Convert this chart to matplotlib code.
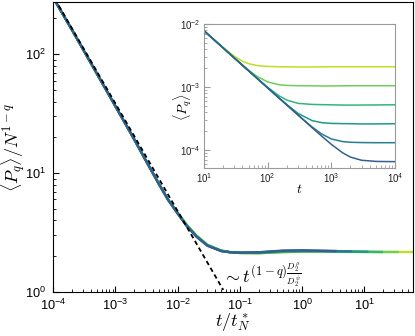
import numpy as np
import matplotlib
matplotlib.use("Agg")
import matplotlib.pyplot as plt
import matplotlib.ticker as ticker

plt.rcParams["font.family"] = ["Liberation Sans", "DejaVu Sans"]
plt.rcParams["mathtext.fontset"] = "custom"
plt.rcParams["mathtext.rm"] = "Liberation Sans"
plt.rcParams["mathtext.it"] = "Liberation Sans:italic"
plt.rcParams["mathtext.bf"] = "Liberation Sans:bold"

# --- main panel: collapsed curves, <P_q>/N^(1-q) vs t/t*_N ---
t_main = [1e-4, 2e-4, 5e-4, 1e-3, 2e-3, 3e-3, 5e-3, 7e-3, 1e-2, 1.4e-2, 2e-2, 3e-2,
          5e-2, 7e-2, 0.1, 0.2, 0.5, 1, 2, 3.4, 6, 11, 19, 34, 60]
nan = np.nan
main_curves = [
    [300, 161, 69.3, 36.6, 19.3, 13.1, 8.1, 6.02, 4.66, 3.68, 3.00, 2.50, 2.23, 2.16, 2.13, 2.12,
     2.16, 2.18, 2.18, 2.18, 2.17, 2.17, 2.17, 2.17, 2.17],
    [300, 161, 69.3, 36.6, 19.3, 13.1, 8.1, 6.01, 4.64, 3.66, 2.98, 2.49, 2.23, 2.16, 2.13, 2.12,
     2.17, 2.19, 2.19, 2.18, 2.18, 2.17, 2.17, 2.17, nan],
    [300, 161, 69.3, 36.6, 19.3, 13.1, 8.1, 6.00, 4.62, 3.64, 2.96, 2.48, 2.22, 2.16, 2.13, 2.13,
     2.18, 2.20, 2.20, 2.19, 2.18, 2.18, 2.17, nan, nan],
    [300, 161, 69.3, 36.6, 19.3, 13.1, 8.1, 5.99, 4.60, 3.62, 2.95, 2.47, 2.22, 2.16, 2.14, 2.14,
     2.20, 2.21, 2.21, 2.20, 2.19, 2.18, nan, nan, nan],
    [300, 161, 69.3, 36.6, 19.3, 13.1, 8.1, 5.98, 4.58, 3.60, 2.93, 2.46, 2.21, 2.16, 2.14, 2.15,
     2.22, 2.23, 2.22, 2.21, 2.20, nan, nan, nan, nan],
    [300, 161, 69.3, 36.6, 19.3, 13.1, 8.1, 5.97, 4.56, 3.58, 2.92, 2.45, 2.21, 2.16, 2.14, 2.16,
     2.23, 2.24, 2.22, 2.21, nan, nan, nan, nan, nan],
]
guide_x = [1e-4, 0.054]
guide_y = [310, 1.04]

# --- inset: raw <P_q> vs t ---
t_in = [10, 15, 20, 30, 40, 50, 70, 100, 150, 200, 300, 500, 700, 1000, 1500, 2000,
        3000, 5000, 7000, 10000]
inset_curves = [
    [7.81e-3, 5.43e-3, 4.24e-3, 3.07e-3, 2.57e-3, 2.35e-3, 2.18e-3, 2.12e-3, 2.10e-3, 2.09e-3,
     2.08e-3, 2.08e-3, 2.09e-3, 2.10e-3, 2.10e-3, 2.10e-3, 2.10e-3, 2.10e-3, 2.10e-3, 2.10e-3],
    [7.80e-3, 5.41e-3, 4.17e-3, 2.90e-3, 2.25e-3, 1.86e-3, 1.45e-3, 1.205e-3, 1.09e-3, 1.06e-3,
     1.05e-3, 1.045e-3, 1.04e-3, 1.04e-3, 1.045e-3, 1.05e-3, 1.05e-3, 1.05e-3, 1.05e-3, 1.05e-3],
    [7.80e-3, 5.41e-3, 4.17e-3, 2.88e-3, 2.23e-3, 1.82e-3, 1.347e-3, 9.9e-4, 7.28e-4, 6.20e-4,
     5.51e-4, 5.30e-4, 5.26e-4, 5.22e-4, 5.18e-4, 5.17e-4, 5.18e-4, 5.20e-4, 5.22e-4, 5.23e-4],
    [7.80e-3, 5.41e-3, 4.17e-3, 2.88e-3, 2.22e-3, 1.815e-3, 1.34e-3, 9.72e-4, 6.76e-4, 5.27e-4,
     3.82e-4, 2.93e-4, 2.725e-4, 2.65e-4, 2.63e-4, 2.62e-4, 2.60e-4, 2.60e-4, 2.61e-4, 2.62e-4],
    [7.80e-3, 5.41e-3, 4.17e-3, 2.88e-3, 2.22e-3, 1.815e-3, 1.34e-3, 9.7e-4, 6.73e-4, 5.19e-4,
     3.61e-4, 2.32e-4, 1.81e-4, 1.503e-4, 1.364e-4, 1.33e-4, 1.316e-4, 1.31e-4, 1.31e-4, 1.31e-4],
    [7.80e-3, 5.41e-3, 4.17e-3, 2.88e-3, 2.22e-3, 1.815e-3, 1.34e-3, 9.7e-4, 6.73e-4, 5.19e-4,
     3.59e-4, 2.26e-4, 1.677e-4, 1.233e-4, 9.07e-5, 7.74e-5, 6.89e-5, 6.62e-5, 6.58e-5, 6.56e-5],
]

colors = plt.cm.viridis(np.linspace(0.9, 0.3, 6))


def style_log_axes(ax, spine_color, labelsize, pad):
    for s in ax.spines.values():
        s.set_color(spine_color)
    ax.tick_params(which="both", direction="in", top=False, right=False,
                   color=spine_color, labelsize=labelsize, pad=pad)
    ax.tick_params(which="major", length=4, width=0.8)
    ax.tick_params(which="minor", length=2.2, width=0.6)
    ax.xaxis.set_minor_formatter(ticker.NullFormatter())
    ax.yaxis.set_minor_formatter(ticker.NullFormatter())


fig = plt.figure(figsize=(4.15, 3.36), dpi=100)
ax = fig.add_axes([0.128, 0.131, 0.867, 0.863])

for y, c in zip(main_curves, colors):
    ax.plot(t_main, y, color=c, lw=1.7)
ax.plot(guide_x, guide_y, color="black", ls=(0, (2.5, 1.8)), lw=1.3)

ax.set_xscale("log")
ax.set_yscale("log")
ax.set_xlim(1e-4, 60)
ax.set_ylim(1, 275)
ax.xaxis.set_major_locator(ticker.LogLocator(base=10, numticks=10))
ax.xaxis.set_minor_locator(ticker.LogLocator(base=10, subs=np.arange(2, 10), numticks=20))
style_log_axes(ax, "black", 9.2, 5)
ax.tick_params(axis="x", pad=4)
ax.set_xlabel(r"$t/t_N^*$", fontsize=13, labelpad=-1, math_fontfamily="cm")
ax.set_ylabel(r"$\langle P_q\rangle/N^{1-q}$", fontsize=13, labelpad=-1, math_fontfamily="cm")
ax.text(0.051, 1.2, r"$\sim t^{(1-q)\frac{D_2^{\mu}}{D_2^{\psi}}}$", fontsize=13,
        math_fontfamily="cm")

ins = fig.add_axes([0.4916, 0.5, 0.4602, 0.4286])
for y, c in zip(inset_curves, colors):
    ins.plot(t_in, y, color=c, lw=1.1)
ins.set_xscale("log")
ins.set_yscale("log")
ins.set_xlim(10, 1e4)
ins.set_ylim(5.2e-5, 1e-2)
style_log_axes(ins, "#9a9a9a", 7, 2.5)
ins.tick_params(labelcolor="#222222")
ins.set_xlabel(r"$t$", fontsize=10, labelpad=-2, math_fontfamily="cm")
ins.text(-0.11, 0.42, r"$\langle P_q\rangle$", fontsize=10, rotation=90,
         ha="center", va="center", transform=ins.transAxes, math_fontfamily="cm")

fig.savefig("out.png", dpi=100)
